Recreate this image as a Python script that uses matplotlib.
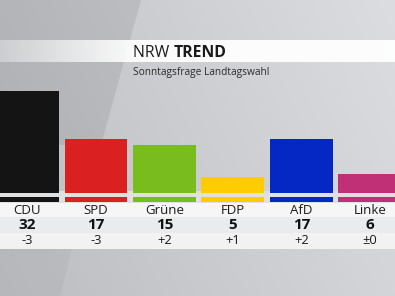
import numpy as np
import matplotlib.pyplot as plt
import matplotlib.transforms as mtransforms
from matplotlib.patches import Polygon, Rectangle

# data
parties = ['CDU', 'SPD', 'Grüne', 'FDP', 'AfD', 'Linke']
values = [32, 17, 15, 5, 17, 6]
changes = ['-3', '-3', '+2', '+1', '+2', '±0']
colors = ['#141414', '#da2020', '#78bc1e', '#fecc00', '#0528c4', '#bf3076']
title_a = 'NRW '
title_b = 'TREND'
subtitle = 'Sonntagsfrage Landtagswahl'

plt.rcParams['font.family'] = ['Open Sans', 'DejaVu Sans']

W, H = 395, 296
fig = plt.figure(figsize=(W / 100, H / 100), dpi=100)

# background axes in pixel coords
bg = fig.add_axes([0, 0, 1, 1])
bg.set_xlim(0, W)
bg.set_ylim(H, 0)
bg.axis('off')

yy, xx = np.mgrid[0:H, 0:W]
v = 190 + 24 * (xx / W) + 8 * (1 - yy / H)
img = np.dstack([v - 3, v - 1, v + 3]).clip(0, 255) / 255
bg.imshow(img, extent=(0, W, H, 0), aspect='auto', zorder=0)

# darker diagonal panel top-left
bg.add_patch(Polygon([(0, 0), (141, 0), (101, 145), (0, 145)],
                     closed=True, fc='black', alpha=0.08, lw=0, zorder=1))
# darker panel bottom-left
bg.add_patch(Polygon([(0, 249), (72, 249), (60, 296), (0, 296)],
                     closed=True, fc='black', alpha=0.03, lw=0, zorder=1))

# title band (white, brighter to the right)
band = np.ones((1, W, 4))
band[0, :, 3] = np.clip(0.35 + 0.6 * (np.arange(W) / 140.0), 0, 0.95)
bg.imshow(band, extent=(0, W, 62, 40), aspect='auto', zorder=2)

# table band
bg.add_patch(Rectangle((0, 191), W, 12, fc='#dfe0e2', lw=0, zorder=2))
bg.add_patch(Rectangle((0, 203), W, 14, fc='#f6f6f7', lw=0, zorder=2))
bg.add_patch(Rectangle((0, 217), W, 16, fc='#eaebec', lw=0, zorder=2))
bg.add_patch(Rectangle((0, 233), W, 16, fc='#f2f2f3', lw=0, zorder=2))

# titles
t1 = bg.text(133, 57, title_a, fontsize=11.4, color='#1a1a1a',
             va='baseline', ha='left', zorder=5)
fig.canvas.draw()
bb = t1.get_window_extent()
x2 = 133 + bb.width
bg.text(x2, 57, title_b, fontsize=11.4, color='#1a1a1a', fontweight='bold',
        va='baseline', ha='left', zorder=5)
bg.text(133, 75, subtitle, fontsize=7.3, color='#2a2a2a',
        va='baseline', ha='left', zorder=5)

# bar axes
step = 68.5
c0 = 27.5
scale = 3.19
base = 193
strip_bot = 202
ax = fig.add_axes([0, (H - strip_bot) / H, 1, strip_bot / H])
ax.set_xlim(-c0 / step, (W - c0) / step)
ax.set_ylim(-(strip_bot - base) / scale, base / scale)
ax.patch.set_alpha(0)
ax.axis('off')

x = np.arange(len(parties))
ax.bar(x, values, width=63 / step, color=colors, align='center')
ax.bar(x, [5 / scale] * len(parties), bottom=-(strip_bot - base) / scale,
       width=63 / step, color=colors, align='center')

tr = mtransforms.blended_transform_factory(ax.transData, bg.transData)
for i, p in enumerate(parties):
    bg.text(i, 210, p, transform=tr, ha='center', va='center',
            fontsize=9.5, color='#1a1a1a', zorder=5)
    bg.text(i, 225, str(values[i]), transform=tr, ha='center', va='center',
            fontsize=11, fontweight='bold', color='#111111', zorder=5)
    bg.text(i, 241, changes[i], transform=tr, ha='center', va='center',
            fontsize=9.3, color='#1a1a1a', zorder=5)

fig.savefig('out.png', dpi=100)
